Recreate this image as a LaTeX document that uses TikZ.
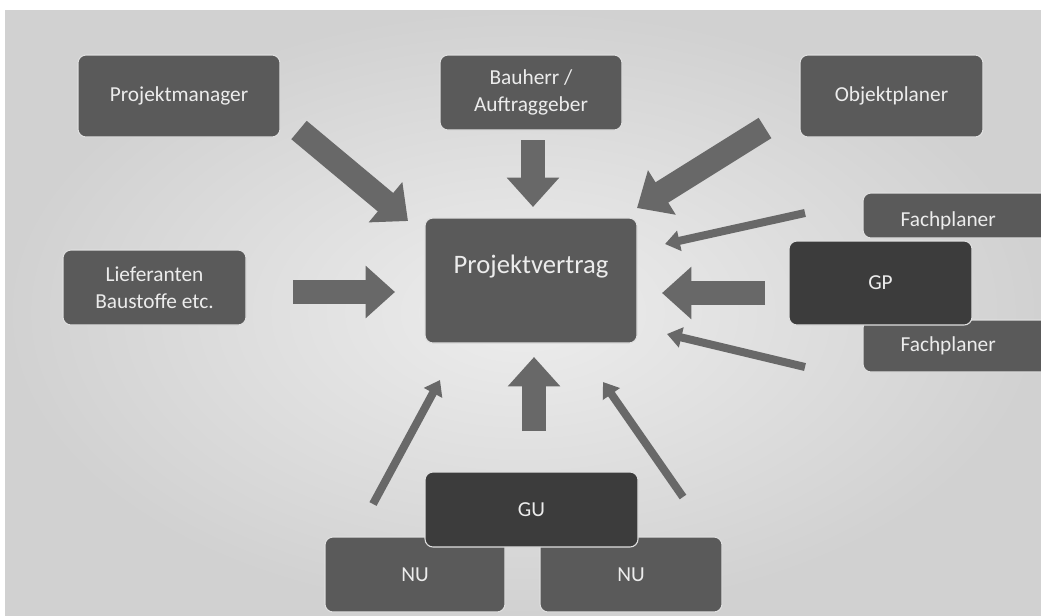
\documentclass[tikz,border=0pt]{standalone}
\usepackage{fontspec}
\setmainfont{Carlito}
\usetikzlibrary{arrows.meta}
\definecolor{boxgray}{HTML}{5A5A5A}
\definecolor{boxdark}{HTML}{3C3C3C}
\definecolor{arrowgray}{HTML}{686868}
\definecolor{txtwhite}{HTML}{ECECEC}
\tikzset{
  box/.style={rectangle, rounded corners=6pt, fill=boxgray, draw=white!75!gray, line width=0.8pt,
    text=txtwhite, font=\fontsize{16}{20}\selectfont, align=center, inner sep=0pt},
  darkbox/.style={box, fill=boxdark},
  fatarrow/.style={draw=arrowgray, line width=18pt, -{Triangle[length=22pt,width=38pt]}},
  thinarrow/.style={draw=arrowgray, line width=6pt, -{Triangle[length=11pt,width=15pt]}}
}
\begin{document}
\begin{tikzpicture}[x=0.75pt,y=0.75pt,yscale=-1,xscale=1]
    \useasboundingbox (0,0) rectangle (1041,615);
    \clip (0,0) rectangle (1041,615);
    %Background
    \fill[white] (0,0) rectangle (1041,615);
    \shade[inner color=black!7, outer color=black!18] (5,10) rectangle (1041,615);

    %Boxes top row
    \node[box, minimum width=151.5pt, minimum height=61.5pt] (pm) at (179,96) {Projektmanager};
    \node[box, minimum width=136.5pt, minimum height=56.25pt] (bh) at (531,92.5) {Bauherr /\\Auftraggeber};
    \node[box, minimum width=137.25pt, minimum height=61.5pt] (op) at (891.5,96) {Objektplaner};
    %Centre
    \node[box, minimum width=159pt, minimum height=93.75pt, font=\fontsize{20}{24}\selectfont, text depth=24pt] (pv) at (531,280.5) {Projektvertrag};
    %Left
    \node[box, minimum width=137.25pt, minimum height=56.25pt] (lf) at (154.5,287.5) {Lieferanten\\Baustoffe etc.};
    %Right group (runs off the edge)
    \node[box, minimum width=147.75pt, minimum height=33.75pt, text height=19pt] (fp1) at (961.5,215.5) {Fachplaner\hspace*{20pt}};
    \node[box, minimum width=147.75pt, minimum height=39pt] (fp2) at (961.5,346) {Fachplaner\hspace*{20pt}};
    \node[darkbox, minimum width=137.25pt, minimum height=63pt] (gp) at (880.5,283) {GP};
    %Bottom group
    \node[box, minimum width=135pt, minimum height=56.25pt] (nu1) at (415,574.5) {NU};
    \node[box, minimum width=136.5pt, minimum height=56.25pt] (nu2) at (631,574.5) {NU};
    \node[darkbox, minimum width=159.75pt, minimum height=56.25pt] (gu) at (531.5,509.5) {GU};

    %Arrow ends
    \coordinate (pm-out) at (299,130);   \coordinate (pv-nw) at (408,221);
    \coordinate (bh-out) at (533,140);   \coordinate (pv-n) at (533,207);
    \coordinate (op-out) at (765,128);   \coordinate (pv-ne) at (637,208);
    \coordinate (lf-out) at (293,292);   \coordinate (pv-w) at (395,292);
    \coordinate (gp-out) at (765,293);   \coordinate (pv-e) at (662,293);
    \coordinate (fp1-out) at (805,213);  \coordinate (pv-ene) at (665,244);
    \coordinate (fp2-out) at (805,367);  \coordinate (pv-ese) at (667,334);
    \coordinate (gu-out) at (534,431);   \coordinate (pv-s) at (534,357);
    \coordinate (nu1-out) at (373,504);  \coordinate (pv-sw) at (440,380);
    \coordinate (nu2-out) at (683,497);  \coordinate (pv-se) at (603,382);

    %Fat arrows
    \draw[fatarrow] (pm-out) -- (pv-nw);
    \draw[fatarrow] (bh-out) -- (pv-n);
    \draw[fatarrow] (op-out) -- (pv-ne);
    \draw[fatarrow] (lf-out) -- (pv-w);
    \draw[fatarrow] (gp-out) -- (pv-e);
    \draw[fatarrow] (gu-out) -- (pv-s);
    %Thin arrows
    \draw[thinarrow] (fp1-out) -- (pv-ene);
    \draw[thinarrow] (fp2-out) -- (pv-ese);
    \draw[thinarrow] (nu1-out) -- (pv-sw);
    \draw[thinarrow] (nu2-out) -- (pv-se);
\end{tikzpicture}
\end{document}
